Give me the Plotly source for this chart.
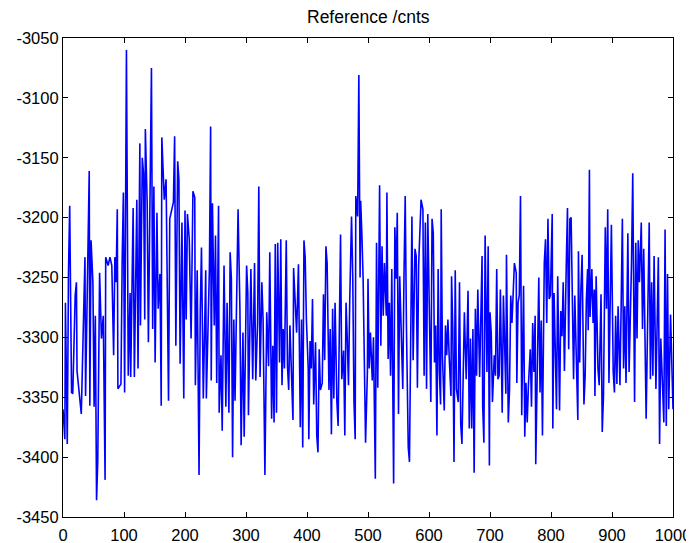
import plotly.graph_objects as go

# Sample index and reference counts
sample_idx = [
    0, 3, 4, 7, 9, 11, 14, 16, 20, 22, 23, 30, 36, 37, 43, 44, 46, 49, 51, 53,
    55, 57, 60, 63, 66, 69, 70, 74, 77, 80, 83, 85, 87, 89, 90, 95, 97, 99, 101, 104,
    107, 110, 111, 113, 115, 117, 121, 123, 126, 127, 130, 132, 134, 135, 138, 140, 143, 145, 147, 149,
    151, 154, 156, 159, 161, 162, 166, 169, 173, 175,
    181, 183, 185, 188, 190, 192, 195, 198, 200, 202, 204, 207, 210, 213, 216, 217, 220, 222, 223, 225,
    227, 230, 234, 235, 237, 240, 242, 243, 245, 246, 248, 250, 252, 255, 256, 259, 261, 264, 267, 269,
    272, 274, 276, 278, 280, 282, 285, 287, 290, 292, 295, 297, 301, 303, 304, 308, 311, 314, 316, 319,
    321, 323, 326, 328, 331, 334, 337, 339,
    342, 344, 346, 348, 350, 352, 355, 357, 359, 361, 363, 366, 368, 370, 372, 375, 377, 378, 380, 383,
    386, 389, 391, 393, 395, 397, 399, 402, 403, 405, 407, 409, 411, 414, 416, 418, 420, 422, 425, 427,
    429, 431, 433, 436, 438, 440, 442, 444, 446, 449, 451, 453, 455, 457, 460, 462, 464, 466, 468, 470,
    473, 475, 477, 479, 480, 483, 485, 487, 488, 490, 492, 496, 499,
    500, 502, 504, 507, 509, 512, 514, 516, 519, 521, 523, 525, 527, 530, 531, 533, 535, 537, 539, 542,
    544, 546, 548, 550, 552, 555, 557, 559, 561, 563, 566, 568, 570, 572, 574, 577, 579, 581, 583, 585,
    587, 590, 592, 594, 596, 598, 601, 603, 605, 607, 609, 611, 613, 615, 617, 619, 620, 622, 625, 627,
    629, 631, 633, 636, 637, 639, 641, 643, 645, 648, 650, 652, 654, 656, 658, 661, 664, 666,
    668, 670, 672, 674, 676, 678, 680, 683, 685, 687, 688, 690, 692, 695, 697, 699, 700, 702, 704, 707,
    709, 711, 713, 715, 717, 720, 722, 724, 726, 727, 730, 732, 734, 736, 740, 743, 744, 746, 748, 750,
    752, 755, 757, 759, 761, 763, 766, 768, 770, 772, 774, 775, 778, 780, 782, 784, 786, 789, 791, 793,
    795, 797, 799, 802, 803, 805, 807, 809, 811, 814, 816, 818, 820, 822, 825, 827, 829, 831,
    833, 835, 837, 839, 842, 844, 845, 847, 849, 851, 854, 856, 858, 860, 861, 863, 864, 867, 869, 871,
    872, 874, 877, 879, 882, 884, 886, 889, 891, 893, 895, 897, 899, 902, 904, 906, 908, 910, 913, 915,
    917, 919, 921, 923, 926, 928, 930, 932, 934, 937, 939, 941, 943, 945, 948, 950, 952, 954, 956, 958,
    961, 963, 965, 967, 969, 972, 974, 976, 978, 980, 983, 985, 987, 989, 991, 993, 996, 998, 1000,
]

reference_cnts = [
    -3360, -3385, -3271, -3389, -3246, -3190, -3346, -3347, -3265, -3254, -3328, -3364, -3233, -3349, -3161, -3357, -3219, -3254, -3358, -3282,
    -3436, -3403, -3246, -3301, -3282, -3419, -3233, -3240, -3233, -3240, -3315, -3233, -3254, -3193, -3343, -3339, -3236, -3179, -3346, -3060,
    -3332, -3263, -3333, -3272, -3192, -3333, -3185, -3326, -3138, -3290, -3150, -3163, -3285, -3126, -3188, -3304, -3147, -3075, -3293, -3174,
    -3321, -3196, -3276, -3247, -3357, -3133, -3185, -3168, -3353, -3201,
    -3187, -3132, -3307, -3153, -3168, -3322, -3204, -3351, -3194, -3285, -3197, -3218, -3301, -3178, -3183, -3340, -3244, -3346, -3415, -3279,
    -3225, -3351, -3244, -3351, -3299, -3243, -3124, -3336, -3188, -3221, -3290, -3215, -3338, -3190, -3363, -3315, -3378, -3240, -3358, -3271,
    -3363, -3229, -3251, -3400, -3285, -3353, -3243, -3193, -3275, -3390, -3296, -3383, -3240, -3263, -3365, -3243, -3335, -3238, -3336, -3288,
    -3174, -3333, -3254, -3285, -3415, -3279, -3324, -3229,
    -3368, -3307, -3371, -3222, -3363, -3221, -3321, -3218, -3340, -3293, -3326, -3219, -3324, -3344, -3290, -3347, -3369, -3242, -3265, -3296,
    -3239, -3375, -3285, -3392, -3219, -3233, -3285, -3326, -3385, -3303, -3326, -3268, -3356, -3304, -3382, -3396, -3310, -3344, -3338, -3264,
    -3319, -3224, -3238, -3344, -3293, -3381, -3276, -3351, -3271, -3354, -3374, -3285, -3214, -3335, -3311, -3382, -3271, -3301, -3340, -3271,
    -3199, -3249, -3354, -3385, -3182, -3199, -3081, -3250, -3186, -3215, -3251, -3388, -3329,
    -3251, -3326, -3296, -3336, -3300, -3418, -3221, -3342, -3173, -3307, -3224, -3282, -3238, -3282, -3179, -3318, -3271, -3332, -3243, -3422,
    -3208, -3251, -3196, -3364, -3249, -3315, -3343, -3249, -3182, -3290, -3392, -3404, -3272, -3199, -3319, -3226, -3232, -3342, -3240, -3215,
    -3185, -3193, -3332, -3204, -3343, -3197, -3276, -3354, -3201, -3213, -3321, -3290, -3382, -3243, -3329, -3356, -3193, -3315, -3361, -3290,
    -3315, -3285, -3315, -3349, -3249, -3293, -3404, -3244, -3343, -3354, -3254, -3372, -3389, -3321, -3279, -3335, -3261, -3376,
    -3301, -3376, -3293, -3413, -3276, -3332, -3260, -3333, -3290, -3232, -3357, -3388, -3215, -3329, -3224, -3407, -3279, -3296, -3354, -3315,
    -3332, -3243, -3335, -3332, -3260, -3363, -3265, -3315, -3347, -3231, -3371, -3343, -3265, -3288, -3238, -3246, -3338, -3271, -3265, -3182,
    -3365, -3257, -3383, -3338, -3371, -3340, -3310, -3358, -3288, -3329, -3282, -3406, -3329, -3250, -3346, -3286, -3382, -3238, -3218, -3288,
    -3201, -3268, -3265, -3197, -3376, -3263, -3310, -3360, -3249, -3361, -3278, -3299, -3254, -3328, -3240, -3192, -3310, -3201,
    -3200, -3271, -3335, -3265, -3318, -3369, -3228, -3321, -3260, -3231, -3356, -3332, -3268, -3243, -3294, -3160, -3283, -3243, -3288, -3260,
    -3349, -3249, -3326, -3340, -3264, -3379, -3349, -3208, -3276, -3193, -3338, -3265, -3206, -3329, -3346, -3282, -3339, -3274, -3340, -3274,
    -3201, -3326, -3274, -3338, -3213, -3329, -3285, -3238, -3163, -3354, -3221, -3301, -3219, -3254, -3204, -3293, -3226, -3304, -3368, -3301,
    -3204, -3335, -3254, -3332, -3232, -3343, -3282, -3233, -3389, -3301, -3343, -3371, -3210, -3374, -3247, -3360, -3281, -3336, -3360,
]

x_ticks = [0, 100, 200, 300, 400, 500, 600, 700, 800, 900, 1000]
y_ticks = [-3450, -3400, -3350, -3300, -3250, -3200, -3150, -3100, -3050]
title_text = "Reference /cnts"

FONT = "Liberation Sans, Arial, sans-serif"

fig = go.Figure()
fig.add_trace(go.Scatter(
    x=sample_idx, y=reference_cnts, mode="lines",
    line=dict(color="#0000FF", width=1.6), showlegend=False,
))

axis_common = dict(
    showline=True, linecolor="black", linewidth=1.2, mirror="ticks",
    ticks="inside", ticklen=5, tickcolor="black", tickwidth=1,
    showgrid=False, zeroline=False, automargin=False,
    tickfont=dict(family=FONT, size=16.5, color="black"),
)
fig.update_xaxes(range=[0, 1000], tickvals=x_ticks, ticktext=[str(v) for v in x_ticks],
                 ticklabelstandoff=3, **axis_common)
fig.update_yaxes(range=[-3450, -3050], tickvals=y_ticks, ticktext=[str(v) for v in y_ticks], **axis_common)

fig.add_annotation(
    text=title_text, xref="paper", yref="paper", x=0.5, y=1,
    xanchor="center", yanchor="middle", yshift=21, showarrow=False,
    font=dict(family=FONT, size=17.5, color="black"),
)

# The page body has an 8px default margin; size the figure so it fits the window.
fig.update_layout(
    width=686, height=535,
    margin=dict(l=55, r=21, t=30, b=26, autoexpand=False),
    paper_bgcolor="white", plot_bgcolor="white",
)

fig.write_html("out.html")
